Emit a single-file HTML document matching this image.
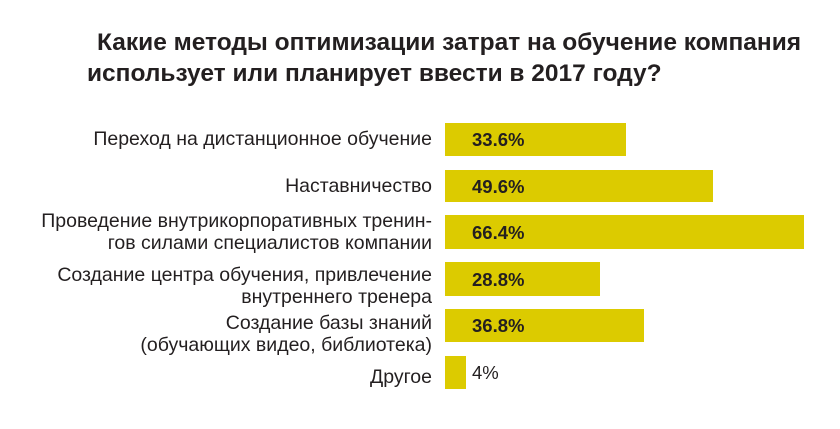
<!DOCTYPE html>
<html><head><meta charset="utf-8"><style>
body{margin:0;width:840px;height:429px;background:#fff;position:relative;overflow:hidden;font-family:"Liberation Sans","DejaVu Sans",sans-serif;color:#231f20}
.t{position:absolute;font-weight:bold;font-size:24.5px;white-space:nowrap;line-height:30px}
.l{position:absolute;right:408px;text-align:right;font-size:19.5px;line-height:22px;white-space:nowrap}
.b{position:absolute;left:445px;background:#dccb00}
.v{position:absolute;left:472px;font-size:18.5px;font-weight:bold;line-height:20px}
</style></head><body>
<div class="t" style="left:97px;top:28px">Какие методы оптимизации затрат на обучение компания</div>
<div class="t" style="left:87px;top:59px">использует или планирует ввести в 2017 году?</div>

<div class="l" style="top:128px">Переход на дистанционное обучение</div>
<div class="l" style="top:175px">Наставничество</div>
<div class="l" style="top:210px">Проведение внутрикорпоративных тренин-<br>гов силами специалистов компании</div>
<div class="l" style="top:264px">Создание центра обучения, привлечение<br>внутреннего тренера</div>
<div class="l" style="top:312px">Создание базы знаний<br>(обучающих видео, библиотека)</div>
<div class="l" style="top:366px">Другое</div>

<div class="b" style="top:123px;width:181px;height:33px"></div>
<div class="b" style="top:170px;width:268px;height:32px"></div>
<div class="b" style="top:215px;width:359px;height:34px"></div>
<div class="b" style="top:262px;width:155px;height:34px"></div>
<div class="b" style="top:309px;width:199px;height:33px"></div>
<div class="b" style="top:356px;width:21px;height:33px"></div>

<div class="v" style="top:130px">33.6%</div>
<div class="v" style="top:177px">49.6%</div>
<div class="v" style="top:223px">66.4%</div>
<div class="v" style="top:270px">28.8%</div>
<div class="v" style="top:316px">36.8%</div>
<div class="v" style="top:363px;font-weight:normal">4%</div>
</body></html>
